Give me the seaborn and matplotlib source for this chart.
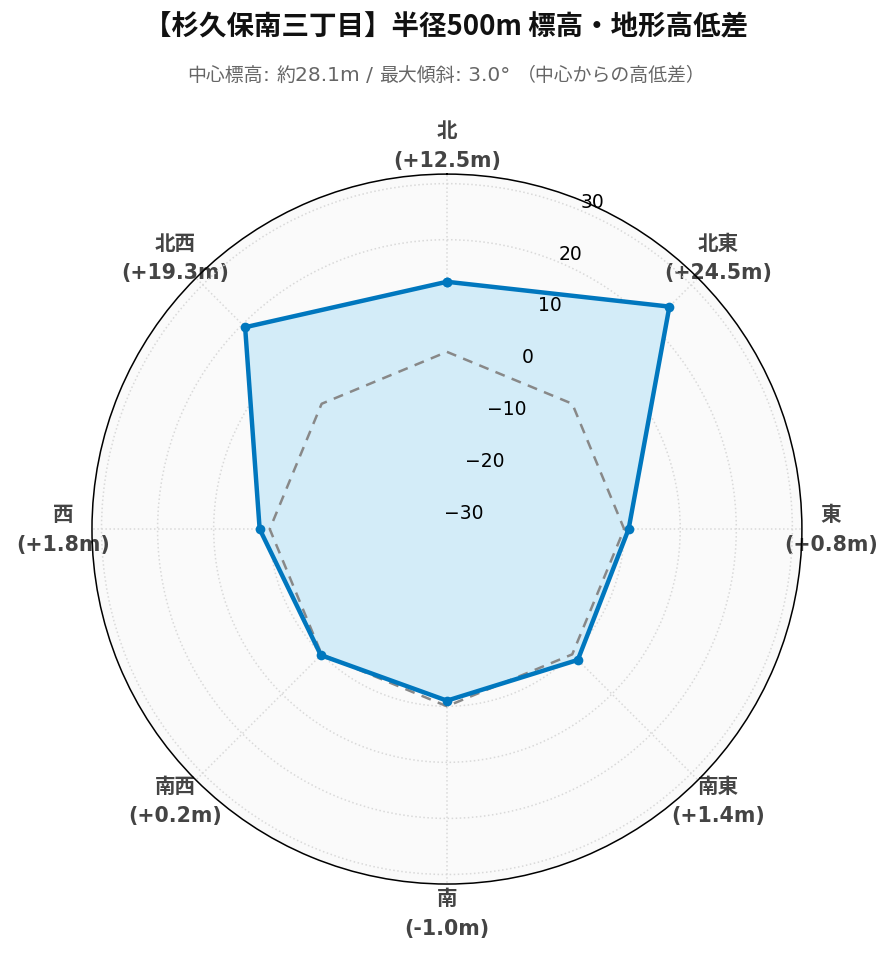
import re
import numpy as np
import pandas as pd
import matplotlib
matplotlib.use("Agg")
import matplotlib.pyplot as plt
import matplotlib.transforms as mtransforms
import seaborn as sns

# ---- data ----
directions = ["北", "北東", "東", "南東", "南", "南西", "西", "北西"]
diffs = [12.5, 24.5, 0.8, 1.4, -1.0, 0.2, 1.8, 19.3]
reference = [0, 0, 0, 0, 0, 0, 0, 0]
r_ticks = [-30, -20, -10, 0, 10, 20, 30]
title = "【杉久保南三丁目】半径500m 標高・地形高低差"
subtitle = "中心標高: 約28.1m / 最大傾斜: 3.0° （中心からの高低差）"

sns.set_theme(style="white")
LATIN_CJK = ["DejaVu Sans", "Noto Sans CJK JP"]
plt.rcParams["font.family"] = LATIN_CJK
plt.rcParams["axes.unicode_minus"] = True

angles = np.deg2rad(np.arange(len(directions)) * 360 / len(directions))
theta_closed = np.append(angles, 2 * np.pi)
df = pd.DataFrame({
    "theta": theta_closed,
    "diff": diffs + diffs[:1],
    "ref": reference + reference[:1],
})

fig = plt.figure(figsize=(8.93, 9.62), dpi=100)
ax = fig.add_axes([0.103, 0.080, 0.795, 0.738], projection="polar")
ax.set_theta_zero_location("N")
ax.set_theta_direction(-1)
ax.set_facecolor("#fafafa")

line_color = "#0077be"
ax.fill(df["theta"], df["diff"], color="#d3ecf8", zorder=2)
sns.lineplot(data=df, x="theta", y="ref", sort=False, ax=ax, color="#888888",
             linestyle=(0, (4, 3)), linewidth=1.8, zorder=3, legend=False)
sns.lineplot(data=df, x="theta", y="diff", sort=False, ax=ax, color=line_color,
             linewidth=3.2, marker="o", markersize=7, markeredgewidth=0,
             zorder=4, legend=False)

ax.set_ylim(-31.6, 31.7)
ax.set_yticks(r_ticks)
ax.set_yticklabels([])
ax.set_xticks(angles)
ax.set_xticklabels([f"{d}\n({v:+.1f}m)" for d, v in zip(directions, diffs)],
                   fontsize=14.8, fontweight="bold", color="#444444",
                   linespacing=1.6, family=LATIN_CJK)
ax.tick_params(axis="x", pad=8)
ax.set_xlabel("")
ax.set_ylabel("")
ax.grid(True, color="#d9d9d9", linestyle=":", linewidth=1.1)
ax.spines["polar"].set_color("black")
ax.spines["polar"].set_linewidth(1.1)

# radial tick labels, placed beside a 22.5° axis line
lab_angle = np.deg2rad(22.5)
offset = mtransforms.offset_copy(ax.transData, fig=fig, x=13.3, y=8.6, units="dots")
for t in r_ticks:
    ax.text(lab_angle, t, f"{t}".replace("-", "\u2212"), transform=offset,
            ha="center", va="center", fontsize=13.5, color="black", zorder=6,
            family=LATIN_CJK)

fig.text(0.5, 1 - 27 / 962, title, ha="center", va="center", fontsize=19.8,
         fontweight="bold", color="#111111",
         family=["Noto Sans CJK JP", "DejaVu Sans"])

# subtitle: CJK runs and Latin runs set in separate fonts, laid side by side
cjk_re = re.compile(r"([\u3000-\u9fff\uff00-\uffef]+)")
runs = [s for s in cjk_re.split(subtitle) if s]
sub_y = 1 - 81 / 962
pieces = []
for run in runs:
    is_cjk = bool(cjk_re.fullmatch(run))
    pieces.append(fig.text(0, sub_y, run.replace(" ", "\u00a0"),
                           fontsize=13.6 if is_cjk else 14.5, color="#666666",
                           family=["Noto Sans CJK JP"] if is_cjk else ["DejaVu Sans"],
                           ha="left", va="baseline"))

fig.canvas.draw()
rend = fig.canvas.get_renderer()
widths = [p.get_window_extent(rend).width for p in pieces]
x0 = (fig.bbox.width - sum(widths)) / 2
for p, w in zip(pieces, widths):
    p.set_x(x0 / fig.bbox.width)
    x0 += w

fig.savefig("out.png", dpi=100)
